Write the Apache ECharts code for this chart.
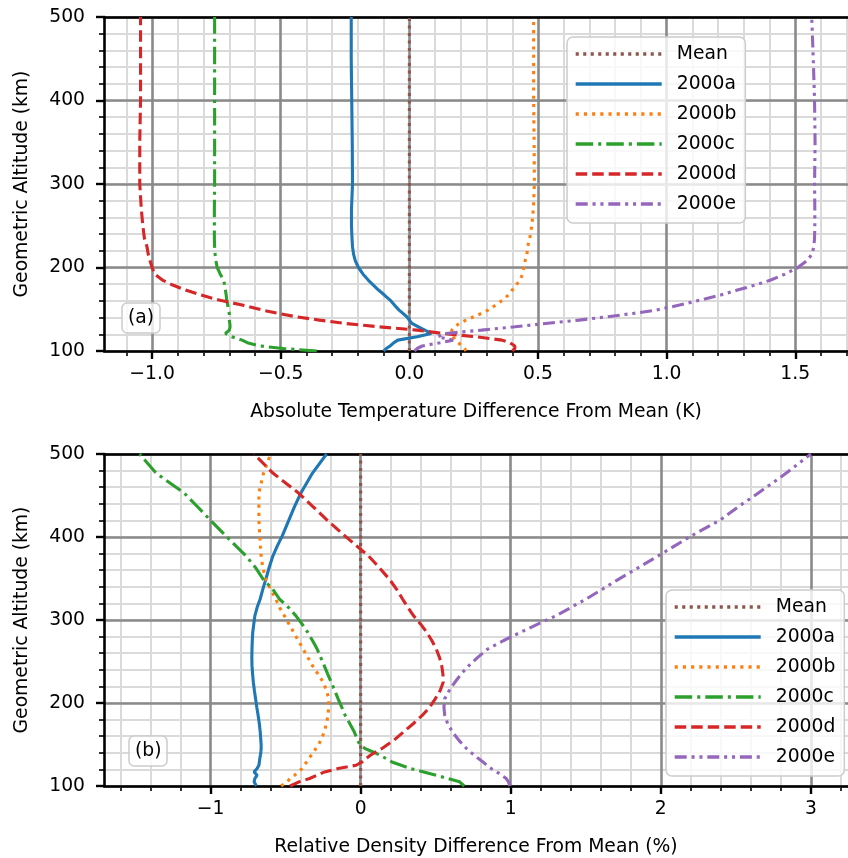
<!DOCTYPE html>
<html><head><meta charset="utf-8">
<script src="https://cdn.jsdelivr.net/npm/echarts@6/dist/echarts.min.js"></script>
<style>html,body{margin:0;padding:0;background:#fff}#c{width:848px;height:858px}</style>
</head><body><div id="c"></div>
<script>
// ---------- DATA ----------
const seriesNames = ['Mean', '2000a', '2000b', '2000c', '2000d', '2000e'];

// Panel (a): absolute temperature difference (K) vs altitude (km)
const altTop = [100,103,106,110,113,117,121,125,129,133,137,141,145,149,155,161,167,173,179,185,192,200,208,216,225,235,250,270,300,350,400,450,500];
const meanAltTop = [100, 500];
const meanTop = [0, 0];
const tempA = [-0.10,-0.09,-0.075,-0.06,-0.045,0.03,0.085,0.06,0.035,0.01,0.0,-0.01,-0.025,-0.04,-0.058,-0.075,-0.097,-0.12,-0.14,-0.16,-0.18,-0.198,-0.21,-0.217,-0.221,-0.223,-0.225,-0.225,-0.221,-0.222,-0.224,-0.226,-0.226];
const tempB = [0.22,0.215,0.205,0.19,0.18,0.17,0.165,0.165,0.175,0.195,0.22,0.25,0.28,0.306,0.335,0.363,0.385,0.40,0.415,0.43,0.44,0.445,0.45,0.457,0.46,0.468,0.476,0.482,0.486,0.485,0.483,0.483,0.483];
const tempC = [-0.36,-0.49,-0.58,-0.63,-0.65,-0.69,-0.715,-0.70,-0.697,-0.698,-0.70,-0.70,-0.70,-0.703,-0.706,-0.71,-0.712,-0.715,-0.718,-0.722,-0.735,-0.747,-0.752,-0.755,-0.757,-0.758,-0.758,-0.758,-0.757,-0.757,-0.757,-0.757,-0.757];
const tempD = [0.40,0.41,0.41,0.39,0.36,0.26,0.13,0.03,-0.12,-0.25,-0.35,-0.44,-0.51,-0.57,-0.65,-0.74,-0.81,-0.87,-0.92,-0.96,-0.99,-1.0,-1.008,-1.015,-1.02,-1.03,-1.036,-1.042,-1.048,-1.048,-1.045,-1.045,-1.045];
const tempE = [0.02,0.03,0.05,0.12,0.17,0.11,0.14,0.28,0.41,0.53,0.66,0.77,0.87,0.96,1.05,1.13,1.21,1.275,1.345,1.405,1.46,1.51,1.545,1.565,1.572,1.575,1.576,1.576,1.575,1.577,1.575,1.57,1.564];

// Panel (b): relative density difference (%) vs altitude (km)
const altBot = [100,105,109,113,117,121,125,129,133,137,141,145,150,155,165,175,185,195,205,215,225,235,245,255,265,275,285,295,305,315,325,337,349,363,377,389,401,421,437,453,477,500];
const meanAltBot = [100, 500];
const meanBot = [0, 0];
const densA = [-0.695,-0.71,-0.705,-0.69,-0.71,-0.69,-0.678,-0.675,-0.672,-0.668,-0.665,-0.663,-0.663,-0.665,-0.669,-0.675,-0.683,-0.692,-0.70,-0.708,-0.715,-0.72,-0.724,-0.725,-0.724,-0.722,-0.719,-0.712,-0.705,-0.69,-0.67,-0.652,-0.632,-0.61,-0.585,-0.556,-0.523,-0.477,-0.44,-0.398,-0.321,-0.227];
const densB = [-0.53,-0.49,-0.47,-0.44,-0.414,-0.39,-0.375,-0.36,-0.345,-0.33,-0.313,-0.299,-0.28,-0.265,-0.243,-0.228,-0.218,-0.213,-0.212,-0.228,-0.249,-0.285,-0.321,-0.352,-0.383,-0.415,-0.446,-0.477,-0.508,-0.54,-0.565,-0.60,-0.632,-0.652,-0.663,-0.668,-0.672,-0.678,-0.678,-0.678,-0.647,-0.60];
const densC = [0.69,0.659,0.58,0.504,0.42,0.332,0.27,0.208,0.17,0.13,0.083,0.03,-0.005,-0.02,-0.042,-0.072,-0.103,-0.126,-0.15,-0.173,-0.196,-0.22,-0.243,-0.266,-0.29,-0.32,-0.352,-0.39,-0.431,-0.48,-0.54,-0.585,-0.649,-0.70,-0.763,-0.83,-0.896,-1.005,-1.09,-1.176,-1.363,-1.473];
const densD = [-0.47,-0.41,-0.34,-0.29,-0.24,-0.15,-0.03,0.01,0.035,0.065,0.10,0.14,0.18,0.22,0.285,0.35,0.41,0.46,0.497,0.53,0.55,0.548,0.54,0.525,0.504,0.475,0.441,0.40,0.353,0.315,0.28,0.24,0.192,0.125,0.053,-0.025,-0.103,-0.227,-0.32,-0.414,-0.585,-0.71];
const densE = [0.995,0.985,0.97,0.94,0.907,0.87,0.84,0.815,0.785,0.76,0.73,0.706,0.68,0.655,0.612,0.58,0.56,0.555,0.56,0.59,0.628,0.67,0.721,0.78,0.846,0.95,1.063,1.18,1.30,1.40,1.50,1.61,1.717,1.85,1.98,2.09,2.20,2.40,2.52,2.65,2.836,3.00];

// Tick positions / labels
const xMajorTop = [-1.0, -0.5, 0.0, 0.5, 1.0, 1.5];
const xMinorTop = [-1.1,-0.9,-0.8,-0.7,-0.6,-0.4,-0.3,-0.2,-0.1,0.1,0.2,0.3,0.4,0.6,0.7,0.8,0.9,1.1,1.2,1.3,1.4,1.6,1.7];
const xMajorBot = [-1, 0, 1, 2, 3];
const xMinorBot = [-1.6,-1.4,-1.2,-0.8,-0.6,-0.4,-0.2,0.2,0.4,0.6,0.8,1.2,1.4,1.6,1.8,2.2,2.4,2.6,2.8,3.2];

// ---------- STYLE ----------
const FONT = 'DejaVu Sans';
const FS = 18.75;
const LW = 3.1;
const colors = ['#8c564b', '#1f77b4', '#ff7f0e', '#2ca02c', '#d62728', '#9467bd'];
const dashes = [[3.1, 4.4], 'solid', [3.1, 5.1], [17.5, 5, 3.1, 5], [11.5, 5], [12, 4.8, 3.1, 4.8, 3.1, 4.8]];

function fmtTop(v) { return (v < 0 ? '\u2212' : '') + Math.abs(v).toFixed(1); }
function fmtBot(v) { return (v < 0 ? '\u2212' : '') + Math.abs(v).toFixed(0); }

function xAxesFor(gridIndex, min, max, major, minor, fmt, name) {
  return [
    { type: 'value', gridIndex, min, max, position: 'bottom', z: 0,
      axisLine: { show: false, onZero: false }, axisLabel: { show: false },
      axisTick: { show: true, customValues: minor, length: 5, lineStyle: { color: '#000', width: 1.6 } },
      splitLine: { show: true, customValues: minor, lineStyle: { color: '#dadada', width: 2 } } },
    { type: 'value', gridIndex, min, max, position: 'bottom', z: 1,
      name, nameLocation: 'middle', nameGap: 52,
      nameTextStyle: { fontFamily: FONT, fontSize: FS, color: '#000' },
      axisLine: { show: true, onZero: false, lineStyle: { color: '#000', width: 2.6 } },
      axisTick: { show: true, customValues: major, length: 8, lineStyle: { color: '#000', width: 2.4 } },
      axisLabel: { show: true, customValues: major, formatter: fmt, margin: 14, fontFamily: FONT, fontSize: FS, color: '#000' },
      splitLine: { show: true, customValues: major, lineStyle: { color: '#8a8a8a', width: 2.6 } } },
    { type: 'value', gridIndex, min, max, position: 'top', z: 1,
      axisLine: { show: true, onZero: false, lineStyle: { color: '#000', width: 2.6 } },
      axisTick: { show: false }, axisLabel: { show: false }, splitLine: { show: false } }
  ];
}
function yAxesFor(gridIndex) {
  return [
    { type: 'value', gridIndex, min: 100, max: 500, interval: 20, position: 'left', z: 0,
      axisLine: { show: false, onZero: false }, axisLabel: { show: false },
      axisTick: { show: true, length: 5, lineStyle: { color: '#000', width: 1.6 } },
      splitLine: { show: true, lineStyle: { color: '#dadada', width: 2 } } },
    { type: 'value', gridIndex, min: 100, max: 500, interval: 100, position: 'left', z: 1,
      name: 'Geometric Altitude (km)', nameLocation: 'middle', nameGap: 72,
      nameTextStyle: { fontFamily: FONT, fontSize: FS, color: '#000' },
      axisLine: { show: true, onZero: false, lineStyle: { color: '#000', width: 2.6 } },
      axisTick: { show: true, length: 8, lineStyle: { color: '#000', width: 2.4 } },
      axisLabel: { show: true, margin: 19, fontFamily: FONT, fontSize: FS, color: '#000' },
      splitLine: { show: true, lineStyle: { color: '#8a8a8a', width: 2.6 } } }
  ];
}

function zip(xs, ys) { return ys.map((y, i) => [xs[i], y]); }

function panelSeries(xAxisIndex, yAxisIndex, altMean, meanVals, alt, sets) {
  const out = [];
  out.push({ name: seriesNames[0], data: zip(meanVals, altMean) });
  sets.forEach((vals, i) => out.push({ name: seriesNames[i + 1], data: zip(vals, alt) }));
  return out.map((s, i) => ({
    type: 'line', name: s.name, data: s.data, xAxisIndex, yAxisIndex,
    symbol: 'none', showSymbol: false, smooth: false, animation: false, z: 2, clip: true,
    color: colors[i],
    lineStyle: { color: colors[i], width: LW, type: dashes[i], cap: 'butt' }
  }));
}

const legendCommon = {
  orient: 'vertical', data: seriesNames,
  itemWidth: 86, itemHeight: 14, itemGap: 10,
  padding: [7, 9, 9, 7],
  backgroundColor: 'rgba(255,255,255,0.8)', borderColor: '#cccccc', borderWidth: 1.5, borderRadius: 6,
  itemStyle: { opacity: 0, color: 'rgba(0,0,0,0)', borderWidth: 0 },
  lineStyle: { width: 3.4 },
  textStyle: { fontFamily: FONT, fontSize: FS, color: '#000', lineHeight: 20, padding: [0, 0, 0, 10] },
  selectedMode: false
};
const titleCommon = {
  padding: [5, 6, 5, 6],
  backgroundColor: 'rgba(255,255,255,0.8)', borderColor: '#cccccc', borderWidth: 1.5, borderRadius: 5,
  textStyle: { fontFamily: FONT, fontSize: FS, fontWeight: 'normal', color: '#000', lineHeight: 20 }
};

const chart = echarts.init(document.getElementById('c'), null, { renderer: 'canvas' });
chart.setOption({
  animation: false,
  backgroundColor: '#fff',
  textStyle: { fontFamily: FONT },
  grid: [
    { left: 104, top: 17, width: 752, height: 334 },
    { left: 104, top: 454, width: 752, height: 333 }
  ],
  xAxis: [].concat(
    xAxesFor(0, -1.187, 1.705, xMajorTop, xMinorTop, fmtTop, 'Absolute Temperature Difference From Mean (K)'),
    xAxesFor(1, -1.71, 3.247, xMajorBot, xMinorBot, fmtBot, 'Relative Density Difference From Mean (%)')
  ),
  yAxis: [].concat(yAxesFor(0), yAxesFor(1)),
  legend: [
    Object.assign({ left: 567, top: 37 }, legendCommon),
    Object.assign({ left: 666, top: 590 }, legendCommon)
  ],
  title: [
    Object.assign({ text: '(a)', left: 122, top: 303 }, titleCommon),
    Object.assign({ text: '(b)', left: 129, top: 736 }, titleCommon)
  ],
  series: [].concat(
    panelSeries(1, 1, meanAltTop, meanTop, altTop, [tempA, tempB, tempC, tempD, tempE]),
    panelSeries(4, 3, meanAltBot, meanBot, altBot, [densA, densB, densC, densD, densE])
  )
});
</script>
</body></html>
